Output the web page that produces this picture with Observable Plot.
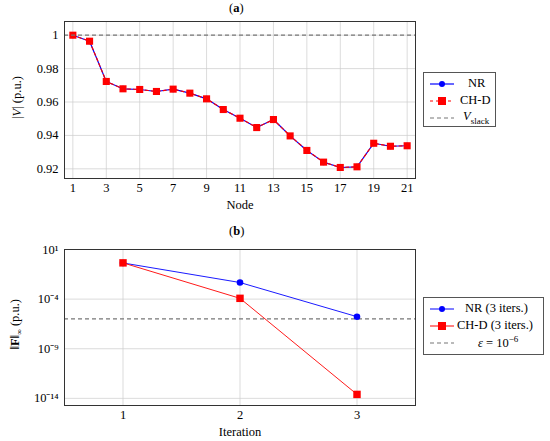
<!DOCTYPE html>
<html><head><meta charset="utf-8">
<script src="https://cdn.jsdelivr.net/npm/d3@7"></script>
<script src="https://cdn.jsdelivr.net/npm/@observablehq/plot@0.6"></script>
<style>
body{margin:0;background:#fff;font-family:"Liberation Serif","Times New Roman",serif;}
#wrap{position:relative;width:550px;height:441px;}
.p{position:absolute;left:0;}
.title{position:absolute;font-size:12.5px;color:#000;white-space:nowrap;}
.leg{position:absolute;border:1px solid #555;background:#fff;font-size:12.5px;white-space:nowrap;}
.leg div{display:flex;align-items:center;height:17px;}
</style></head><body>
<div id="wrap"></div>
<script>
// Panel (a): node voltages
const nodes = [1,2,3,4,5,6,7,8,9,10,11,12,13,14,15,16,17,18,19,20,21];
const vNR  = [1.0,0.9964,0.9723,0.9679,0.9675,0.9663,0.9677,0.9653,0.9619,0.9555,0.9503,0.9447,0.9495,0.9397,0.931,0.924,0.9208,0.9212,0.9353,0.9335,0.9338];
const vCHD = [1.0,0.9964,0.9723,0.9679,0.9675,0.9663,0.9677,0.9653,0.9619,0.9555,0.9503,0.9447,0.9495,0.9397,0.931,0.924,0.9208,0.9212,0.9353,0.9335,0.9338];
const vSlack = 1.0;
const xTicksA = [1,3,5,7,9,11,13,15,17,19,21];
const yTicksA = [0.92,0.94,0.96,0.98,1];

// Panel (b): mismatch norm per iteration
const iters = [1,2,3];
const fNR  = [0.44,4.7e-3,1.7e-6];
const fCHD = [0.45,1.2e-4,2.5e-14];
const epsTol = 1e-6;
const yTicksB = [1e1,1e-4,1e-9,1e-14];
const yTickLabelsB = {"1":"10¹","-4":"10⁻⁴","-9":"10⁻⁹","-14":"10⁻¹⁴"};

const wrap = document.getElementById("wrap");
const font = "'Liberation Serif', serif";

const dataA = nodes.map((n,i)=>({n, nr:vNR[i], chd:vCHD[i]}));
const plotA = Plot.plot({
  width:550, height:215,
  marginLeft:64, marginRight:135, marginTop:21, marginBottom:37,
  style:{fontFamily:font, fontSize:"12.5px", color:"#000", background:"transparent"},
  x:{domain:[0.5,21.5], ticks:xTicksA, tickSize:0, label:"Node", labelAnchor:"center", labelArrow:"none", labelOffset:30, tickPadding:5},
  y:{domain:[0.9142,1.0082], ticks:yTicksA, tickSize:0, tickFormat:d=>d===1?"1":d3.format(".2f")(d), label:null, tickPadding:6},
  marks:[
    Plot.gridX(xTicksA,{stroke:"#ccc", strokeOpacity:1, strokeWidth:0.7}),
    Plot.gridY(yTicksA,{stroke:"#ccc", strokeOpacity:1, strokeWidth:0.7}),
    Plot.line(dataA,{x:"n", y:"nr", stroke:"#0000ff", strokeWidth:1.2}),
    Plot.dot(dataA,{x:"n", y:"nr", r:3, fill:"#0000ff", stroke:"none"}),
    Plot.line(dataA,{x:"n", y:"chd", stroke:"#ff0000", strokeWidth:1.2, strokeDasharray:"3,3"}),
    Plot.dot(dataA,{x:"n", y:"chd", symbol:"square", r:4, fill:"#ff0000", stroke:"none"}),
    Plot.ruleY([vSlack],{stroke:"#777", strokeWidth:1.2, strokeDasharray:"4,3"}),
    Plot.frame({stroke:"#333", strokeWidth:1})
  ]
});
plotA.classList.add("p"); plotA.style.top="0px";
wrap.appendChild(plotA);

const dataB = iters.map((k,i)=>({k, nr:fNR[i], chd:fCHD[i]}));
const plotB = Plot.plot({
  width:550, height:221,
  marginLeft:64, marginRight:135, marginTop:29, marginBottom:36,
  style:{fontFamily:font, fontSize:"12.5px", color:"#000", background:"transparent"},
  x:{domain:[0.5,3.5], ticks:iters, tickSize:0, tickFormat:d3.format("d"), label:"Iteration", labelAnchor:"center", labelArrow:"none", labelOffset:30, tickPadding:5},
  y:{type:"log", domain:[Math.pow(10,-14.72),10], ticks:yTicksB, tickSize:0, tickFormat:d=>yTickLabelsB[String(Math.round(Math.log10(d)))], label:null, tickPadding:6},
  marks:[
    Plot.gridX(iters,{stroke:"#ccc", strokeOpacity:1, strokeWidth:0.7}),
    Plot.gridY(yTicksB,{stroke:"#ccc", strokeOpacity:1, strokeWidth:0.7}),
    Plot.ruleY([epsTol],{stroke:"#777", strokeWidth:1.2, strokeDasharray:"4,3"}),
    Plot.line(dataB,{x:"k", y:"nr", stroke:"#0000ff", strokeWidth:0.9}),
    Plot.dot(dataB,{x:"k", y:"nr", r:3.3, fill:"#0000ff", stroke:"none"}),
    Plot.line(dataB,{x:"k", y:"chd", stroke:"#ff0000", strokeWidth:0.9}),
    Plot.dot(dataB,{x:"k", y:"chd", symbol:"square", r:4.2, fill:"#ff0000", stroke:"none"}),
    Plot.frame({stroke:"#333", strokeWidth:1})
  ]
});
plotB.classList.add("p"); plotB.style.top="220px";
wrap.appendChild(plotB);

function addDiv(html, css, cls){
  const d=document.createElement("div"); d.className=cls||""; d.innerHTML=html; Object.assign(d.style,css); wrap.appendChild(d); return d;
}
// titles
addDiv("(<b>a</b>)",{left:"229px",top:"1px"},"title");
addDiv("(<b>b</b>)",{left:"229px",top:"224px"},"title");
// y labels
addDiv("|<i>V</i>| (p.u.)",{left:"-18px",top:"90px",transform:"rotate(-90deg)",width:"70px",textAlign:"center"},"title");
addDiv("‖<b>F</b>‖<sub style='font-size:8px'>∞</sub> (p.u.)",{left:"-26px",top:"316px",transform:"rotate(-90deg)",width:"84px",textAlign:"center"},"title");

// legends
addDiv(
 `<div><svg width="28" height="10"><line x1="2" y1="5" x2="26" y2="5" stroke="#00f" stroke-width="1.2"/><circle cx="14" cy="5" r="3" fill="#00f"/></svg><span style="margin-left:12px">NR</span></div>
  <div><svg width="28" height="10"><line x1="2" y1="5" x2="26" y2="5" stroke="#f00" stroke-width="1.2" stroke-dasharray="3,3"/><rect x="10" y="1" width="8" height="8" fill="#f00"/></svg><span style="margin-left:4px">CH-D</span></div>
  <div><svg width="28" height="10"><line x1="2" y1="5" x2="26" y2="5" stroke="#777" stroke-width="1.2" stroke-dasharray="4,3"/></svg><span style="margin-left:7px"><i>V</i><sub style="font-size:9px">slack</sub></span></div>`,
 {left:"423px",top:"72px",width:"73px",height:"55px",padding:"2px 0 0 4px",boxSizing:"border-box"},"leg");
addDiv(
 `<div><svg width="28" height="10"><line x1="2" y1="5" x2="26" y2="5" stroke="#00f" stroke-width="1"/><circle cx="14" cy="5" r="3" fill="#00f"/></svg><span style="margin-left:9px">NR (3 iters.)</span></div>
  <div><svg width="28" height="10"><line x1="2" y1="5" x2="26" y2="5" stroke="#f00" stroke-width="1"/><rect x="10" y="1" width="8" height="8" fill="#f00"/></svg><span style="margin-left:1px">CH-D (3 iters.)</span></div>
  <div><svg width="28" height="10"><line x1="2" y1="5" x2="26" y2="5" stroke="#777" stroke-width="1.2" stroke-dasharray="4,3"/></svg><span style="margin-left:22px"><i>ε</i> = 10<sup style="font-size:9px">−6</sup></span></div>`,
 {left:"423px",top:"297px",width:"121px",height:"58px",padding:"2px 0 0 4px",boxSizing:"border-box"},"leg");
</script>
</body></html>
